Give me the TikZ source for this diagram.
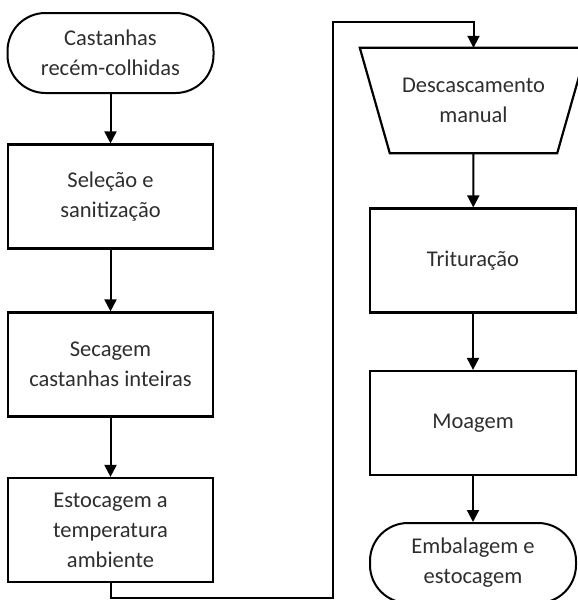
\documentclass[tikz,border=0pt]{standalone}
\usepackage{fontspec}
\setmainfont{Carlito}
\usetikzlibrary{arrows.meta,calc}
\definecolor{txt}{HTML}{2E2E2E}
\tikzset{
  every node/.style={font=\fontsize{22.5}{30}\selectfont, text=txt, align=center, inner sep=0pt},
  procbox/.style={draw, line width=2.2pt, minimum width=205pt, minimum height=104pt},
  termbox/.style={draw, line width=2pt, rounded corners=38pt, minimum width=206pt, minimum height=80pt},
  flow/.style={line width=2pt, -{Triangle[length=12pt,width=12pt]}},
}
\begin{document}
\begin{tikzpicture}[x=1pt,y=1pt]
\useasboundingbox (0,0) rectangle (578,-600);
% left column
\node[termbox] (start) at (110.5,-53) {Castanhas\\recém-colhidas};
\node[procbox] (sel) at (110.5,-196.5) {Seleção e\\sanitização};
\node[procbox] (sec) at (110.5,-364.5) {Secagem\\castanhas inteiras};
\node[procbox] (est) at (110.5,-530) {Estocagem a\\temperatura\\ambiente};
% right column
\node[minimum width=227pt, minimum height=105pt] (desc) at (473.5,-100.5) {Descascamento\\manual};
\draw[line width=2.2pt] (desc.north west) -- (desc.north east)
  -- ([xshift=-30pt]desc.south east) -- ([xshift=30pt]desc.south west) -- cycle;
\node[procbox, minimum width=206pt] (trit) at (473,-260.5) {Trituração};
\node[procbox, minimum width=206pt] (moag) at (473,-423) {Moagem};
\node[termbox] (emb) at (473,-563) {Embalagem e\\estocagem};
% connectors
\coordinate (c1) at (110.5,-598);
\coordinate (c2) at (333,-598);
\coordinate (c3) at (333,-22);
\coordinate (c4) at (473.5,-22);
\draw[flow] (start) -- (sel);
\draw[flow] (sel) -- (sec);
\draw[flow] (sec) -- (est);
\draw[flow] (est.south) -- (c1) -- (c2) -- (c3) -- (c4) -- (desc.north);
\draw[flow] (desc.south) -- (trit);
\draw[flow] (trit) -- (moag);
\draw[flow] (moag) -- (emb);
\end{tikzpicture}
\end{document}
